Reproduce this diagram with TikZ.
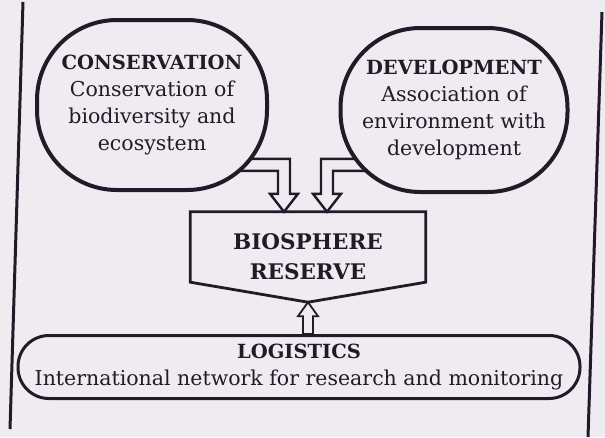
\documentclass[tikz,border=0pt]{standalone}
\usepackage{fontspec}
\setmainfont{DejaVu Serif}
\usetikzlibrary{calc}
\definecolor{paper}{RGB}{238,236,241}
\definecolor{ink}{RGB}{35,25,40}
\newcommand{\hd}[1]{{\fontsize{19.5}{27}\selectfont\bfseries #1}}

\begin{document}
\begin{tikzpicture}[x=1pt,y=-1pt,
  font=\fontsize{20.5}{27}\selectfont,
  blob/.style={draw=ink,line width=4pt,fill=paper,rounded corners=80pt,align=center,text=ink,inner sep=0pt},
  hollow/.style={draw=ink,line width=2.4pt,fill=paper,line join=miter},
  frame/.style={draw=ink,line width=3pt}]
  \useasboundingbox[fill=paper] (0,0) rectangle (605,437);

  %frame
  \draw[frame] (23,2) -- (10,429);
  \draw[frame] (602,12) -- (588,437);

  %biosphere reserve
  \node[inner sep=0pt,minimum width=235pt,minimum height=90pt,align=center,text=ink,
    font=\fontsize{21.5}{30}\selectfont\bfseries] (bio) at (308,257) {BIOSPHERE\\RESERVE};

  %arrows into the box
  \coordinate (lt) at ($(bio.north)+(-24,0)$);
  \draw[hollow] (lt) -- ++(14,-18) -- ++(-8,0) -- ++(0,-35) coordinate (ltc) -- (ltc -| 152,0)
    -- ++(0,12) -- ($(ltc)+(-12,12)$) -- ++(0,23) -- ++(-8,0) -- cycle;
  \coordinate (rt) at ($(bio.north)+(19,0)$);
  \draw[hollow] (rt) -- ++(-14,-18) -- ++(8,0) -- ++(0,-35) coordinate (rtc) -- (rtc -| 454,0)
    -- ++(0,12) -- ($(rtc)+(12,12)$) -- ++(0,23) -- ++(8,0) -- cycle;

  %conservation and development
  \node[blob,minimum width=230pt,minimum height=170pt] (cons) at (152,105)
    {\hd{CONSERVATION}\\Conservation of\\biodiversity and\\ecosystem};
  \node[blob,minimum width=227pt,minimum height=164pt] (dev) at (454,110)
    {\hd{DEVELOPMENT}\\Association of\\environment with\\development};

  %box outline
  \draw[hollow,fill=none,line width=2.8pt] (bio.north west) -- (bio.north east) -- ($(bio.south east)+(0,-20)$)
    -- (bio.south) -- ($(bio.south west)+(0,-20)$) -- cycle;

  %logistics
  \node[draw=ink,line width=3pt,fill=paper,rounded corners=31pt,minimum width=562pt,minimum height=63pt,
    align=center,inner sep=0pt,text=ink] (logi) at (299,367)
    {\hd{LOGISTICS}\\International network for research and monitoring};
  \draw[hollow,line width=1.8pt] (bio.south) -- ++(10,14) -- ++(-5,0) coordinate (upr) -- (upr |- logi.north)
    -- ++(-10,0) -- ($(upr)+(-10,0)$) -- ++(-5,0) -- cycle;
\end{tikzpicture}
\end{document}
